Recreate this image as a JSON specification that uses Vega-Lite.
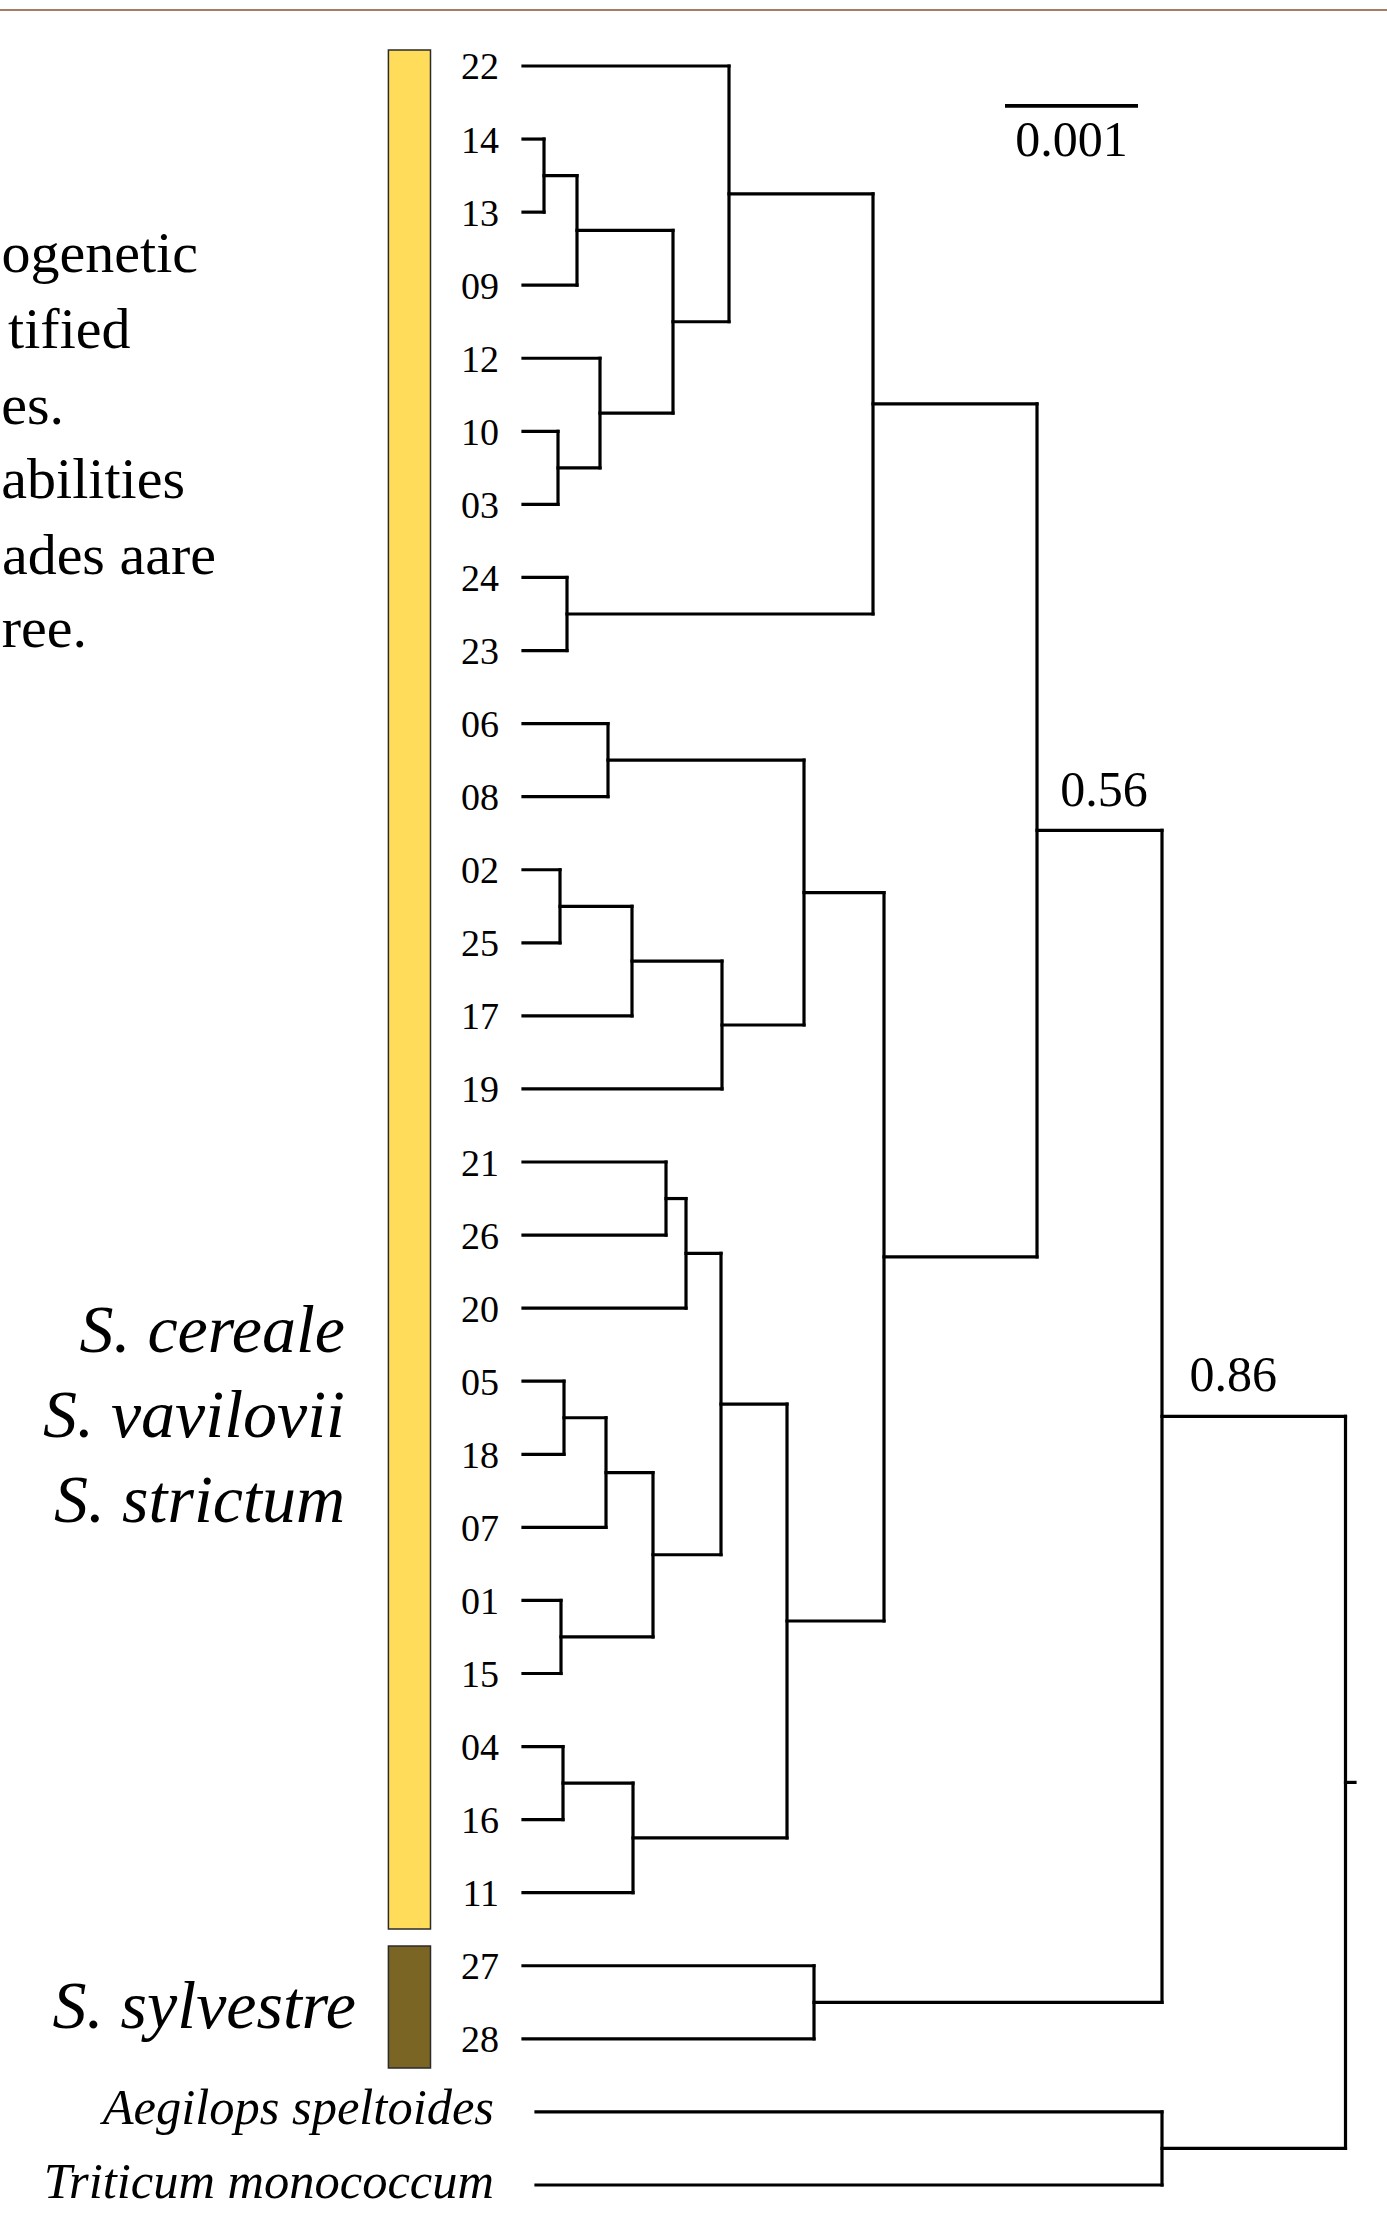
{
  "$schema": "https://vega.github.io/schema/vega-lite/v6.json",
  "width": 1387,
  "height": 2215,
  "autosize": {"type": "none"},
  "padding": 0,
  "background": "white",
  "config": {"view": {"stroke": null}},
  "datasets": {
    "segs": [
      {"x": 0, "x2": 1.5489, "y": 0, "y2": 0},
      {"x": 0, "x2": 0.1579, "y": 1, "y2": 1},
      {"x": 0, "x2": 0.1579, "y": 2, "y2": 2},
      {"x": 0, "x2": 0.406, "y": 3, "y2": 3},
      {"x": 0, "x2": 0.5789, "y": 4, "y2": 4},
      {"x": 0, "x2": 0.2632, "y": 5, "y2": 5},
      {"x": 0, "x2": 0.2632, "y": 6, "y2": 6},
      {"x": 0, "x2": 0.3308, "y": 7, "y2": 7},
      {"x": 0, "x2": 0.3308, "y": 8, "y2": 8},
      {"x": 0, "x2": 0.6391, "y": 9, "y2": 9},
      {"x": 0, "x2": 0.6391, "y": 10, "y2": 10},
      {"x": 0, "x2": 0.2782, "y": 11, "y2": 11},
      {"x": 0, "x2": 0.2782, "y": 12, "y2": 12},
      {"x": 0, "x2": 0.8195, "y": 13, "y2": 13},
      {"x": 0, "x2": 1.4962, "y": 14, "y2": 14},
      {"x": 0, "x2": 1.0752, "y": 15, "y2": 15},
      {"x": 0, "x2": 1.0752, "y": 16, "y2": 16},
      {"x": 0, "x2": 1.2256, "y": 17, "y2": 17},
      {"x": 0, "x2": 0.3083, "y": 18, "y2": 18},
      {"x": 0, "x2": 0.3083, "y": 19, "y2": 19},
      {"x": 0, "x2": 0.6241, "y": 20, "y2": 20},
      {"x": 0, "x2": 0.2857, "y": 21, "y2": 21},
      {"x": 0, "x2": 0.2857, "y": 22, "y2": 22},
      {"x": 0, "x2": 0.3008, "y": 23, "y2": 23},
      {"x": 0, "x2": 0.3008, "y": 24, "y2": 24},
      {"x": 0, "x2": 0.8271, "y": 25, "y2": 25},
      {"x": 0, "x2": 2.188, "y": 26, "y2": 26},
      {"x": 0, "x2": 2.188, "y": 27, "y2": 27},
      {"x": 0.0977, "x2": 4.8045, "y": 28, "y2": 28},
      {"x": 0.0977, "x2": 4.8045, "y": 29, "y2": 29},

      {"x": 0.1579, "x2": 0.406, "y": 1.5, "y2": 1.5},
      {"x": 0.406, "x2": 1.1278, "y": 2.25, "y2": 2.25},
      {"x": 0.2632, "x2": 0.5789, "y": 5.5, "y2": 5.5},
      {"x": 0.5789, "x2": 1.1278, "y": 4.75, "y2": 4.75},
      {"x": 1.1278, "x2": 1.5489, "y": 3.5, "y2": 3.5},
      {"x": 1.5489, "x2": 2.6316, "y": 1.75, "y2": 1.75},
      {"x": 0.3308, "x2": 2.6316, "y": 7.5, "y2": 7.5},
      {"x": 2.6316, "x2": 3.8647, "y": 4.625, "y2": 4.625},
      {"x": 0.6391, "x2": 2.1128, "y": 9.5, "y2": 9.5},
      {"x": 0.2782, "x2": 0.8195, "y": 11.5, "y2": 11.5},
      {"x": 0.8195, "x2": 1.4962, "y": 12.25, "y2": 12.25},
      {"x": 1.4962, "x2": 2.1128, "y": 13.125, "y2": 13.125},
      {"x": 2.1128, "x2": 2.7143, "y": 11.3125, "y2": 11.3125},
      {"x": 1.0752, "x2": 1.2256, "y": 15.5, "y2": 15.5},
      {"x": 1.2256, "x2": 1.4887, "y": 16.25, "y2": 16.25},
      {"x": 0.3083, "x2": 0.6241, "y": 18.5, "y2": 18.5},
      {"x": 0.6241, "x2": 0.9774, "y": 19.25, "y2": 19.25},
      {"x": 0.2857, "x2": 0.9774, "y": 21.5, "y2": 21.5},
      {"x": 0.9774, "x2": 1.4887, "y": 20.375, "y2": 20.375},
      {"x": 1.4887, "x2": 1.985, "y": 18.3125, "y2": 18.3125},
      {"x": 0.3008, "x2": 0.8271, "y": 23.5, "y2": 23.5},
      {"x": 0.8271, "x2": 1.985, "y": 24.25, "y2": 24.25},
      {"x": 1.985, "x2": 2.7143, "y": 21.28125, "y2": 21.28125},
      {"x": 2.7143, "x2": 3.8647, "y": 16.296875, "y2": 16.296875},
      {"x": 3.8647, "x2": 4.8045, "y": 10.4609, "y2": 10.4609},
      {"x": 2.188, "x2": 4.8045, "y": 26.5, "y2": 26.5},
      {"x": 4.8045, "x2": 6.1842, "y": 18.4805, "y2": 18.4805},
      {"x": 4.8045, "x2": 6.1842, "y": 28.5, "y2": 28.5},
      {"x": 6.1842, "x2": 6.2556, "y": 23.4902, "y2": 23.4902},

      {"x": 0.1579, "x2": 0.1579, "y": 1, "y2": 2},
      {"x": 0.406, "x2": 0.406, "y": 1.5, "y2": 3},
      {"x": 0.2632, "x2": 0.2632, "y": 5, "y2": 6},
      {"x": 0.5789, "x2": 0.5789, "y": 4, "y2": 5.5},
      {"x": 1.1278, "x2": 1.1278, "y": 2.25, "y2": 4.75},
      {"x": 1.5489, "x2": 1.5489, "y": 0, "y2": 3.5},
      {"x": 0.3308, "x2": 0.3308, "y": 7, "y2": 8},
      {"x": 2.6316, "x2": 2.6316, "y": 1.75, "y2": 7.5},
      {"x": 0.6391, "x2": 0.6391, "y": 9, "y2": 10},
      {"x": 0.2782, "x2": 0.2782, "y": 11, "y2": 12},
      {"x": 0.8195, "x2": 0.8195, "y": 11.5, "y2": 13},
      {"x": 1.4962, "x2": 1.4962, "y": 12.25, "y2": 14},
      {"x": 2.1128, "x2": 2.1128, "y": 9.5, "y2": 13.125},
      {"x": 1.0752, "x2": 1.0752, "y": 15, "y2": 16},
      {"x": 1.2256, "x2": 1.2256, "y": 15.5, "y2": 17},
      {"x": 0.3083, "x2": 0.3083, "y": 18, "y2": 19},
      {"x": 0.6241, "x2": 0.6241, "y": 18.5, "y2": 20},
      {"x": 0.2857, "x2": 0.2857, "y": 21, "y2": 22},
      {"x": 0.9774, "x2": 0.9774, "y": 19.25, "y2": 21.5},
      {"x": 1.4887, "x2": 1.4887, "y": 16.25, "y2": 20.375},
      {"x": 0.3008, "x2": 0.3008, "y": 23, "y2": 24},
      {"x": 0.8271, "x2": 0.8271, "y": 23.5, "y2": 25},
      {"x": 1.985, "x2": 1.985, "y": 18.3125, "y2": 24.25},
      {"x": 2.7143, "x2": 2.7143, "y": 11.3125, "y2": 21.28125},
      {"x": 3.8647, "x2": 3.8647, "y": 4.625, "y2": 16.296875},
      {"x": 2.188, "x2": 2.188, "y": 26, "y2": 27},
      {"x": 4.8045, "x2": 4.8045, "y": 10.4609, "y2": 26.5},
      {"x": 4.8045, "x2": 4.8045, "y": 28, "y2": 29},
      {"x": 6.1842, "x2": 6.1842, "y": 18.4805, "y2": 28.5}
    ],
    "bars": [
      {"x": -1.012, "x2": -0.6955, "y": -0.219, "y2": 25.496, "group": "S. cereale / S. vavilovii / S. strictum"},
      {"x": -1.012, "x2": -0.6955, "y": 25.729, "y2": 27.398, "group": "S. sylvestre"}
    ],
    "leaves": [
      {"x": -0.1805, "y": 0, "label": "22"},
      {"x": -0.1805, "y": 1, "label": "14"},
      {"x": -0.1805, "y": 2, "label": "13"},
      {"x": -0.1805, "y": 3, "label": "09"},
      {"x": -0.1805, "y": 4, "label": "12"},
      {"x": -0.1805, "y": 5, "label": "10"},
      {"x": -0.1805, "y": 6, "label": "03"},
      {"x": -0.1805, "y": 7, "label": "24"},
      {"x": -0.1805, "y": 8, "label": "23"},
      {"x": -0.1805, "y": 9, "label": "06"},
      {"x": -0.1805, "y": 10, "label": "08"},
      {"x": -0.1805, "y": 11, "label": "02"},
      {"x": -0.1805, "y": 12, "label": "25"},
      {"x": -0.1805, "y": 13, "label": "17"},
      {"x": -0.1805, "y": 14, "label": "19"},
      {"x": -0.1805, "y": 15, "label": "21"},
      {"x": -0.1805, "y": 16, "label": "26"},
      {"x": -0.1805, "y": 17, "label": "20"},
      {"x": -0.1805, "y": 18, "label": "05"},
      {"x": -0.1805, "y": 19, "label": "18"},
      {"x": -0.1805, "y": 20, "label": "07"},
      {"x": -0.1805, "y": 21, "label": "01"},
      {"x": -0.1805, "y": 22, "label": "15"},
      {"x": -0.1805, "y": 23, "label": "04"},
      {"x": -0.1805, "y": 24, "label": "16"},
      {"x": -0.1805, "y": 25, "label": "11"},
      {"x": -0.1805, "y": 26, "label": "27"},
      {"x": -0.1805, "y": 27, "label": "28"}
    ],
    "species": [
      {"x": -1.3383, "y": 17.595, "label": "S. cereale"},
      {"x": -1.3383, "y": 18.759, "label": "S. vavilovii"},
      {"x": -1.3383, "y": 19.922, "label": "S. strictum"},
      {"x": -1.2556, "y": 26.851, "label": "S. sylvestre"}
    ],
    "outgroups": [
      {"x": -0.218, "y": 28.165, "label": "Aegilops speltoides"},
      {"x": -0.218, "y": 29.174, "label": "Triticum monococcum"}
    ],
    "support": [
      {"x": 4.0398, "y": 10.127, "label": "0.56"},
      {"x": 5.012, "y": 18.133, "label": "0.86"}
    ],
    "scalebar": [
      {"x": 3.6241, "x2": 4.6241, "y": 0.5447}
    ],
    "scalelabel": [
      {"x": 4.1241, "y": 1.2334, "label": "0.001"}
    ],
    "caption": [
      {"x": -2.4436, "y": 2.819, "label": "ogenetic"},
      {"x": -2.9511, "y": 3.859, "label": "tified"},
      {"x": -3.4511, "y": 4.899, "label": "es."},
      {"x": -2.5414, "y": 5.912, "label": "abilities"},
      {"x": -2.3083, "y": 6.952, "label": "ades aare"},
      {"x": -3.2782, "y": 7.951, "label": "ree."}
    ],
    "topline": [
      {"x": -3.9323, "x2": 6.4962, "y": -0.7664}
    ]
  },
  "encoding": {
    "x": {"field": "x", "type": "quantitative", "scale": {"domain": [-3.9323, 6.4962], "nice": false, "zero": false}, "axis": null},
    "y": {"field": "y", "type": "quantitative", "scale": {"domain": [-0.9032, 29.4109], "nice": false, "zero": false, "reverse": true}, "axis": null}
  },
  "layer": [
    {
      "data": {"name": "topline"},
      "mark": {"type": "rule", "color": "#a47e62", "strokeWidth": 2},
      "encoding": {"x2": {"field": "x2"}}
    },
    {
      "data": {"name": "bars"},
      "mark": {"type": "rect", "stroke": "#2b2b2b", "strokeWidth": 1.5},
      "encoding": {
        "x2": {"field": "x2"},
        "y2": {"field": "y2"},
        "color": {"field": "group", "type": "nominal", "scale": {"domain": ["S. cereale / S. vavilovii / S. strictum", "S. sylvestre"], "range": ["#ffdc5a", "#7a6525"]}, "legend": null}
      }
    },
    {
      "data": {"name": "segs"},
      "mark": {"type": "rule", "color": "black", "strokeWidth": 3.2, "strokeCap": "square"},
      "encoding": {"x2": {"field": "x2"}, "y2": {"field": "y2"}}
    },
    {
      "data": {"name": "scalebar"},
      "mark": {"type": "rule", "color": "black", "strokeWidth": 3.8},
      "encoding": {"x2": {"field": "x2"}}
    },
    {
      "data": {"name": "scalelabel"},
      "mark": {"type": "text", "font": "Liberation Serif", "fontSize": 50, "align": "center", "baseline": "alphabetic", "color": "black"},
      "encoding": {"text": {"field": "label"}}
    },
    {
      "data": {"name": "leaves"},
      "mark": {"type": "text", "font": "Liberation Serif", "fontSize": 38, "align": "right", "baseline": "alphabetic", "dy": 13.5, "color": "black"},
      "encoding": {"text": {"field": "label"}}
    },
    {
      "data": {"name": "species"},
      "mark": {"type": "text", "font": "Liberation Serif", "fontSize": 68, "fontStyle": "italic", "align": "right", "baseline": "alphabetic", "color": "black"},
      "encoding": {"text": {"field": "label"}}
    },
    {
      "data": {"name": "outgroups"},
      "mark": {"type": "text", "font": "Liberation Serif", "fontSize": 50.5, "fontStyle": "italic", "align": "right", "baseline": "alphabetic", "color": "black"},
      "encoding": {"text": {"field": "label"}}
    },
    {
      "data": {"name": "support"},
      "mark": {"type": "text", "font": "Liberation Serif", "fontSize": 50, "align": "left", "baseline": "alphabetic", "color": "black"},
      "encoding": {"text": {"field": "label"}}
    },
    {
      "data": {"name": "caption"},
      "mark": {"type": "text", "font": "Liberation Serif", "fontSize": 58, "align": "right", "baseline": "alphabetic", "color": "black"},
      "encoding": {"text": {"field": "label"}}
    }
  ]
}
